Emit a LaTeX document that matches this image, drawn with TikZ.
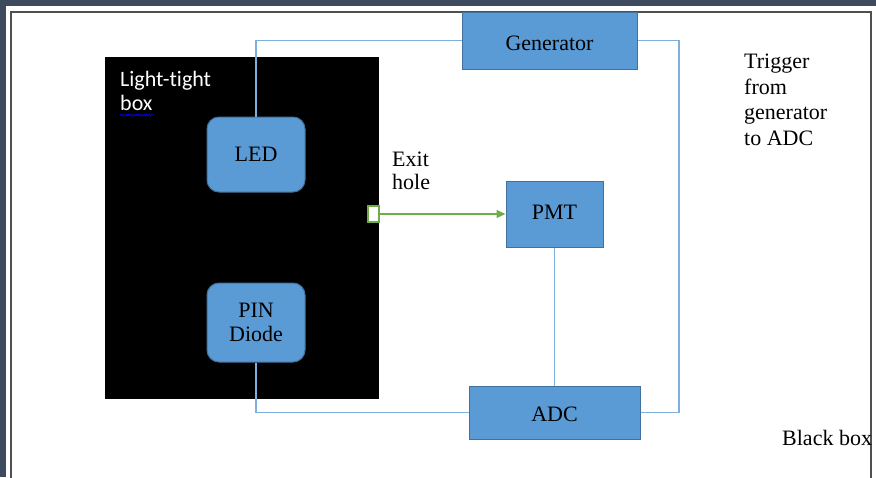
\documentclass[tikz,border=0pt]{standalone}
\usepackage{fontspec}
\setmainfont{Liberation Serif}
\newfontfamily\calib[Ligatures=NoCommon]{Carlito}
\usetikzlibrary{arrows.meta,decorations.pathmorphing}
\definecolor{bgdark}{HTML}{3E4B5E}
\definecolor{boxfill}{HTML}{5B9BD5}
\definecolor{boxedge}{HTML}{41719C}
\definecolor{wirec}{HTML}{7EB0DE}
\definecolor{greenc}{HTML}{70AD47}
\definecolor{framec}{HTML}{505050}
\newcommand{\shiftdn}[2]{\raisebox{#1}[\height][\depth]{#2}}
\tikzset{
  sbox/.style={draw=boxedge, fill=boxfill, line width=1pt, inner sep=0pt,
    font=\fontsize{22}{24}\selectfont, align=center},
  rbox/.style={sbox, rounded corners=12pt},
  wire/.style={draw=wirec, line width=1.3pt},
  garrow/.style={draw=greenc, line width=1.3pt, -{Triangle[length=9pt,width=8pt]}},
  hole/.style={draw=greenc, fill=white, line width=1.2pt, inner sep=0pt},
  label/.style={inner sep=0pt, align=left, anchor=base west, font=\fontsize{22}{25.5}\selectfont}
}
\begin{document}
\begin{tikzpicture}[x=1pt,y=-1pt]
\useasboundingbox (0,0) rectangle (876,477);
\fill[bgdark] (0,0) rectangle (876,477);
\fill[white] (6,6) rectangle (876,477);
\draw[framec, line width=1.5pt] (11,490) -- (11,12) -- (871,12) -- (871,490);
% light-tight box
\fill[black] (105,57) rectangle (379,399);
\node[inner sep=0pt, anchor=base west, text=white, align=left,
  font=\calib\fontsize{22}{24}\selectfont] (ltb) at (120,110) {Light-tight\\box};
\draw[blue, line width=0.6pt, decoration={snake, amplitude=1pt, segment length=2.6pt}, decorate]
  (120,115) -- (153,115);
% boxes
\node[rbox, minimum width=98pt, minimum height=75pt] (led) at (256,154.5) {LED};
\node[rbox, minimum width=98pt, minimum height=79pt] (pin) at (256,322.5) {PIN\\Diode};
\node[sbox, minimum width=175pt, minimum height=57pt] (gen) at (549.5,40.5) {\shiftdn{-3pt}{Generator}};
\node[sbox, minimum width=97pt, minimum height=66pt] (pmt) at (554.5,214) {\shiftdn{2pt}{PMT}};
\node[sbox, minimum width=171pt, minimum height=53pt] (adc) at (554.5,412.5) {\shiftdn{-2pt}{ADC}};
\node[hole, minimum width=11pt, minimum height=16pt] (hole) at (373.5,214) {};
% connectors
\coordinate (rt) at (679,226);
\draw[wire] (led.north) |- (gen.west);
\draw[wire] (gen.east) -| (rt) |- (adc.east);
\draw[wire] (pin.south) |- (adc.west);
\draw[wire] (adc.north) -- (pmt.south);
\draw[garrow] (hole.east) -- (pmt.west);
% labels
\node[label, font=\fontsize{22}{22.5}\selectfont] (exit) at (392,189) {Exit\\hole};
\node[label] (trig) at (744,145) {Trigger\\from\\generator\\to ADC};
\node[label] (bb) at (782,445) {Black box};
\end{tikzpicture}
\end{document}
